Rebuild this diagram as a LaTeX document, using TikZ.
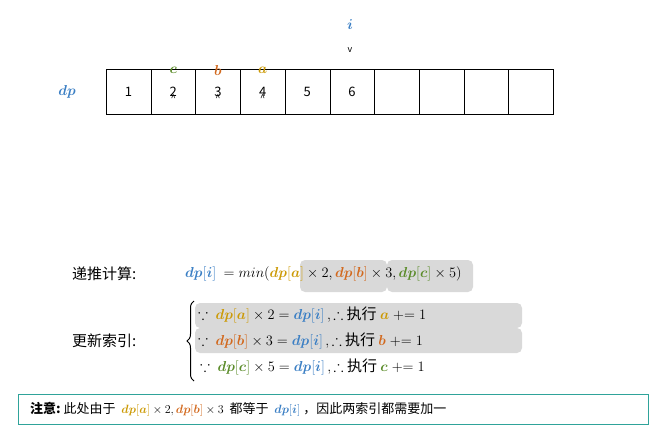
\documentclass[tikz,border=0pt]{standalone}
\usepackage{amssymb}
\usepackage{fontspec}
\usepackage{bm}
\setmainfont{Noto Sans CJK SC}
\usetikzlibrary{decorations.pathreplacing}
\definecolor{cb}{HTML}{3B7FC4}
\definecolor{cy}{HTML}{CC9A06}
\definecolor{co}{HTML}{D2691E}
\definecolor{cg}{HTML}{5B8C2A}
\definecolor{hl}{HTML}{D9D9D9}
\definecolor{tl}{HTML}{2FA39A}
\newcommand{\dpx}[2]{\textcolor{#1}{\bm{dp}[\bm{#2}]}}
\begin{document}
\begin{tikzpicture}[x=1pt,y=-1pt,
  cell/.style={draw,minimum width=44.7pt,minimum height=45pt,inner sep=0,anchor=north west,font=\fontsize{13}{13}\selectfont},
  lbl/.style={font=\fontsize{15}{15}\selectfont,inner sep=0},
  hlbox/.style={fill=hl,rounded corners=5pt}]
\useasboundingbox (0,0) rectangle (664,433);
\foreach \t [count=\k from 0] in {1,2,3,4,5,6,{},{},{},{}}
  \node[cell] (c\k) at (106+\k*44.7,69) {\t};
\node[lbl] (dp) at (67,92) {\textcolor{cb}{$\bm{dp}$}};
\node[lbl] (i) at (350,25) {\textcolor{cb}{$\bm{i}$}};
\node[inner sep=0] (iv) at (350,50) {\small v};
\foreach \n/\l/\c in {1/c/cg,2/b/co,3/a/cy}{
  \node[inner sep=0] (u\n) at ([yshift=16pt]c\n.south) {\small\textasciicircum};
  \node[lbl] (l\n) at ([yshift=44pt]c\n.south) {\textcolor{\c}{$\bm{\l}$}};
}
% highlights
\fill[hlbox] (300,260) rectangle (387,292);
\fill[hlbox] (387,260) rectangle (473,292);
\fill[hlbox] (195,303) rectangle (522,328);
\fill[hlbox] (195,328) rectangle (522,353);
\node[lbl,anchor=west] (t1) at (72,274) {递推计算:};
\node[lbl,anchor=west] (t2) at (72,341) {更新索引:};
\node[lbl,anchor=west] (f1) at (185,274) {$\dpx{cb}{i}\ = min(\dpx{cy}{a}\times 2,\dpx{co}{b}\times 3,\dpx{cg}{c}\times 5)$};
\node[lbl,anchor=west] (r1) at (198,315) {$\because\ \dpx{cy}{a}\times 2=\dpx{cb}{i}\,,\therefore$ 执行 $\textcolor{cy}{\bm a}\mathrel{+}= 1$};
\node[lbl,anchor=west] (r2) at (198,341) {$\because\ \dpx{co}{b}\times 3=\dpx{cb}{i}\,,\therefore$ 执行 $\textcolor{co}{\bm b}\mathrel{+}= 1$};
\node[lbl,anchor=west] (r3) at (200,367) {$\because\ \dpx{cg}{c}\times 5=\dpx{cb}{i}\,,\therefore$ 执行 $\textcolor{cg}{\bm c}\mathrel{+}= 1$};
\draw[decorate,decoration={brace,amplitude=7pt},line width=1pt] (194,381) -- (194,301);
\draw[tl,line width=1pt] (18,394) rectangle (648,424);
\node[font=\fontsize{13}{13}\selectfont,anchor=west,inner sep=0] (note) at (30,409) {\textbf{注意:}\ 此处由于\ \ $\dpx{cy}{a}\times 2,\dpx{co}{b}\times 3$\ \ 都等于\ \ $\dpx{cb}{i}$\ ，因此两索引都需要加一};
\end{tikzpicture}
\end{document}
